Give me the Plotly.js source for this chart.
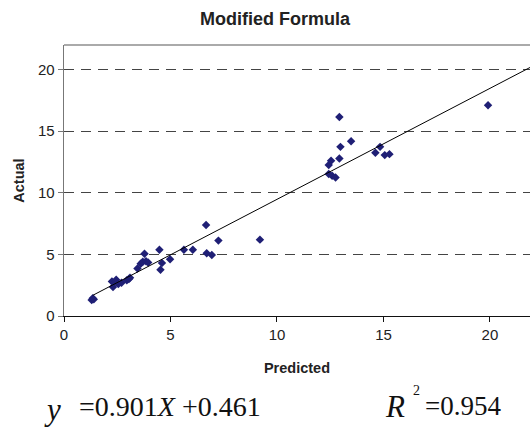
<!DOCTYPE html>
<html><head><meta charset="utf-8">
<script src="https://cdn.plot.ly/plotly-3.0.1.min.js"></script>
<style>html,body{margin:0;padding:0;background:#fff}#chart{width:530px;height:427px}</style>
</head><body><div id="chart"></div>
<script>
const predicted = [1.3,1.35,1.4, 2.25,2.3,2.45,2.35,2.55,2.7,2.95,3.05,3.1, 3.45,3.6,3.7,3.78,3.85,3.95, 4.48,4.53,4.6,4.98,5.63,6.05,6.67,6.7,6.94,7.25,9.2, 12.43,12.43,12.54,12.59,12.75,12.93,12.93,12.98,13.48,14.62,14.84,15.06,15.28,19.91];
const actual = [1.3,1.45,1.35, 2.8,2.35,2.95,2.7,2.6,2.7,2.9,3.0,3.1, 3.85,4.25,4.4,5.05,4.45,4.35, 5.37,3.75,4.3,4.6,5.38,5.38,7.39,5.1,4.95,6.12,6.2, 12.25,11.52,12.6,11.38,11.25,12.79,16.16,13.73,14.19,13.25,13.73,13.06,13.14,17.11];
const slope = 0.901, intercept = 0.461;
const trendX = [1.35, 21.88];
const tickVals = [0,5,10,15,20];
const tickText = ['0','5','10','15','20'];

const W = 530, H = 427, L = 64, R = 0, T = 45, B = 111;
function px(x){ return (x - L) / (W - L - R); }
function py(y){ return (H - B - y) / (H - T - B); }

const traces = [
  {x: predicted, y: actual, type: 'scatter', mode: 'markers',
   marker: {symbol: 'diamond', size: 6.5, color: '#1f1f75'}, cliponaxis: false},
  {x: trendX, y: trendX.map(v => slope * v + intercept), type: 'scatter', mode: 'lines',
   line: {color: '#000', width: 1}}
];

const serif = 'Liberation Serif, Times New Roman, serif';
const layout = {
  width: W, height: H,
  margin: {l: L, r: R, t: T, b: B, pad: 0},
  paper_bgcolor: '#fff', plot_bgcolor: '#fff',
  showlegend: false,
  font: {family: 'Liberation Sans, Arial, sans-serif', size: 15, color: '#222'},
  title: {text: '<b>Modified Formula</b>', x: 275/530, xanchor: 'center', y: 1 - 19/427, yanchor: 'middle',
          font: {size: 18, color: '#222'}},
  xaxis: {range: [0, 21.88], tickvals: tickVals, ticktext: tickText, showgrid: false, zeroline: false,
          showline: true, linecolor: '#111', linewidth: 1.3, ticks: 'outside', ticklen: 5, tickcolor: '#111',
          title: {text: '<b>Predicted</b>', standoff: 20, font: {size: 14.5}}},
  yaxis: {range: [0, 22], tickvals: tickVals, ticktext: tickText, showgrid: true, gridcolor: '#444',
          griddash: '10px,7px', gridwidth: 1, zeroline: false,
          showline: true, linecolor: '#777', linewidth: 1.3, ticks: 'outside', ticklen: 5, tickcolor: '#777',
          title: {text: '<b>Actual</b>', standoff: 10, font: {size: 14.5}}},
  shapes: [
    {type: 'line', xref: 'paper', yref: 'paper', x0: 0, x1: 1, y0: 1, y1: 1,
     line: {color: '#aaa', width: 2}}
  ],
  annotations: [
    {xref: 'paper', yref: 'paper', x: px(42), y: py(409), xanchor: 'left', yanchor: 'middle',
     text: '<i>y</i>', showarrow: false, font: {family: serif, size: 31, color: '#111'}},
    {xref: 'paper', yref: 'paper', x: px(77), y: py(406), xanchor: 'left', yanchor: 'middle',
     text: '=0.901<i>X</i> +0.461', showarrow: false, font: {family: serif, size: 28, color: '#111'}},
    {xref: 'paper', yref: 'paper', x: px(383), y: py(406), xanchor: 'left', yanchor: 'middle',
     text: '<i>R</i>', showarrow: false, font: {family: serif, size: 31, color: '#111'}},
    {xref: 'paper', yref: 'paper', x: px(411), y: py(390), xanchor: 'left', yanchor: 'middle',
     text: '2', showarrow: false, font: {family: serif, size: 14, color: '#111'}},
    {xref: 'paper', yref: 'paper', x: px(423), y: py(406), xanchor: 'left', yanchor: 'middle',
     text: '=0.954', showarrow: false, font: {family: serif, size: 27, color: '#111'}}
  ]
};
Plotly.newPlot('chart', traces, layout, {displayModeBar: false, staticPlot: true});
</script></body></html>
